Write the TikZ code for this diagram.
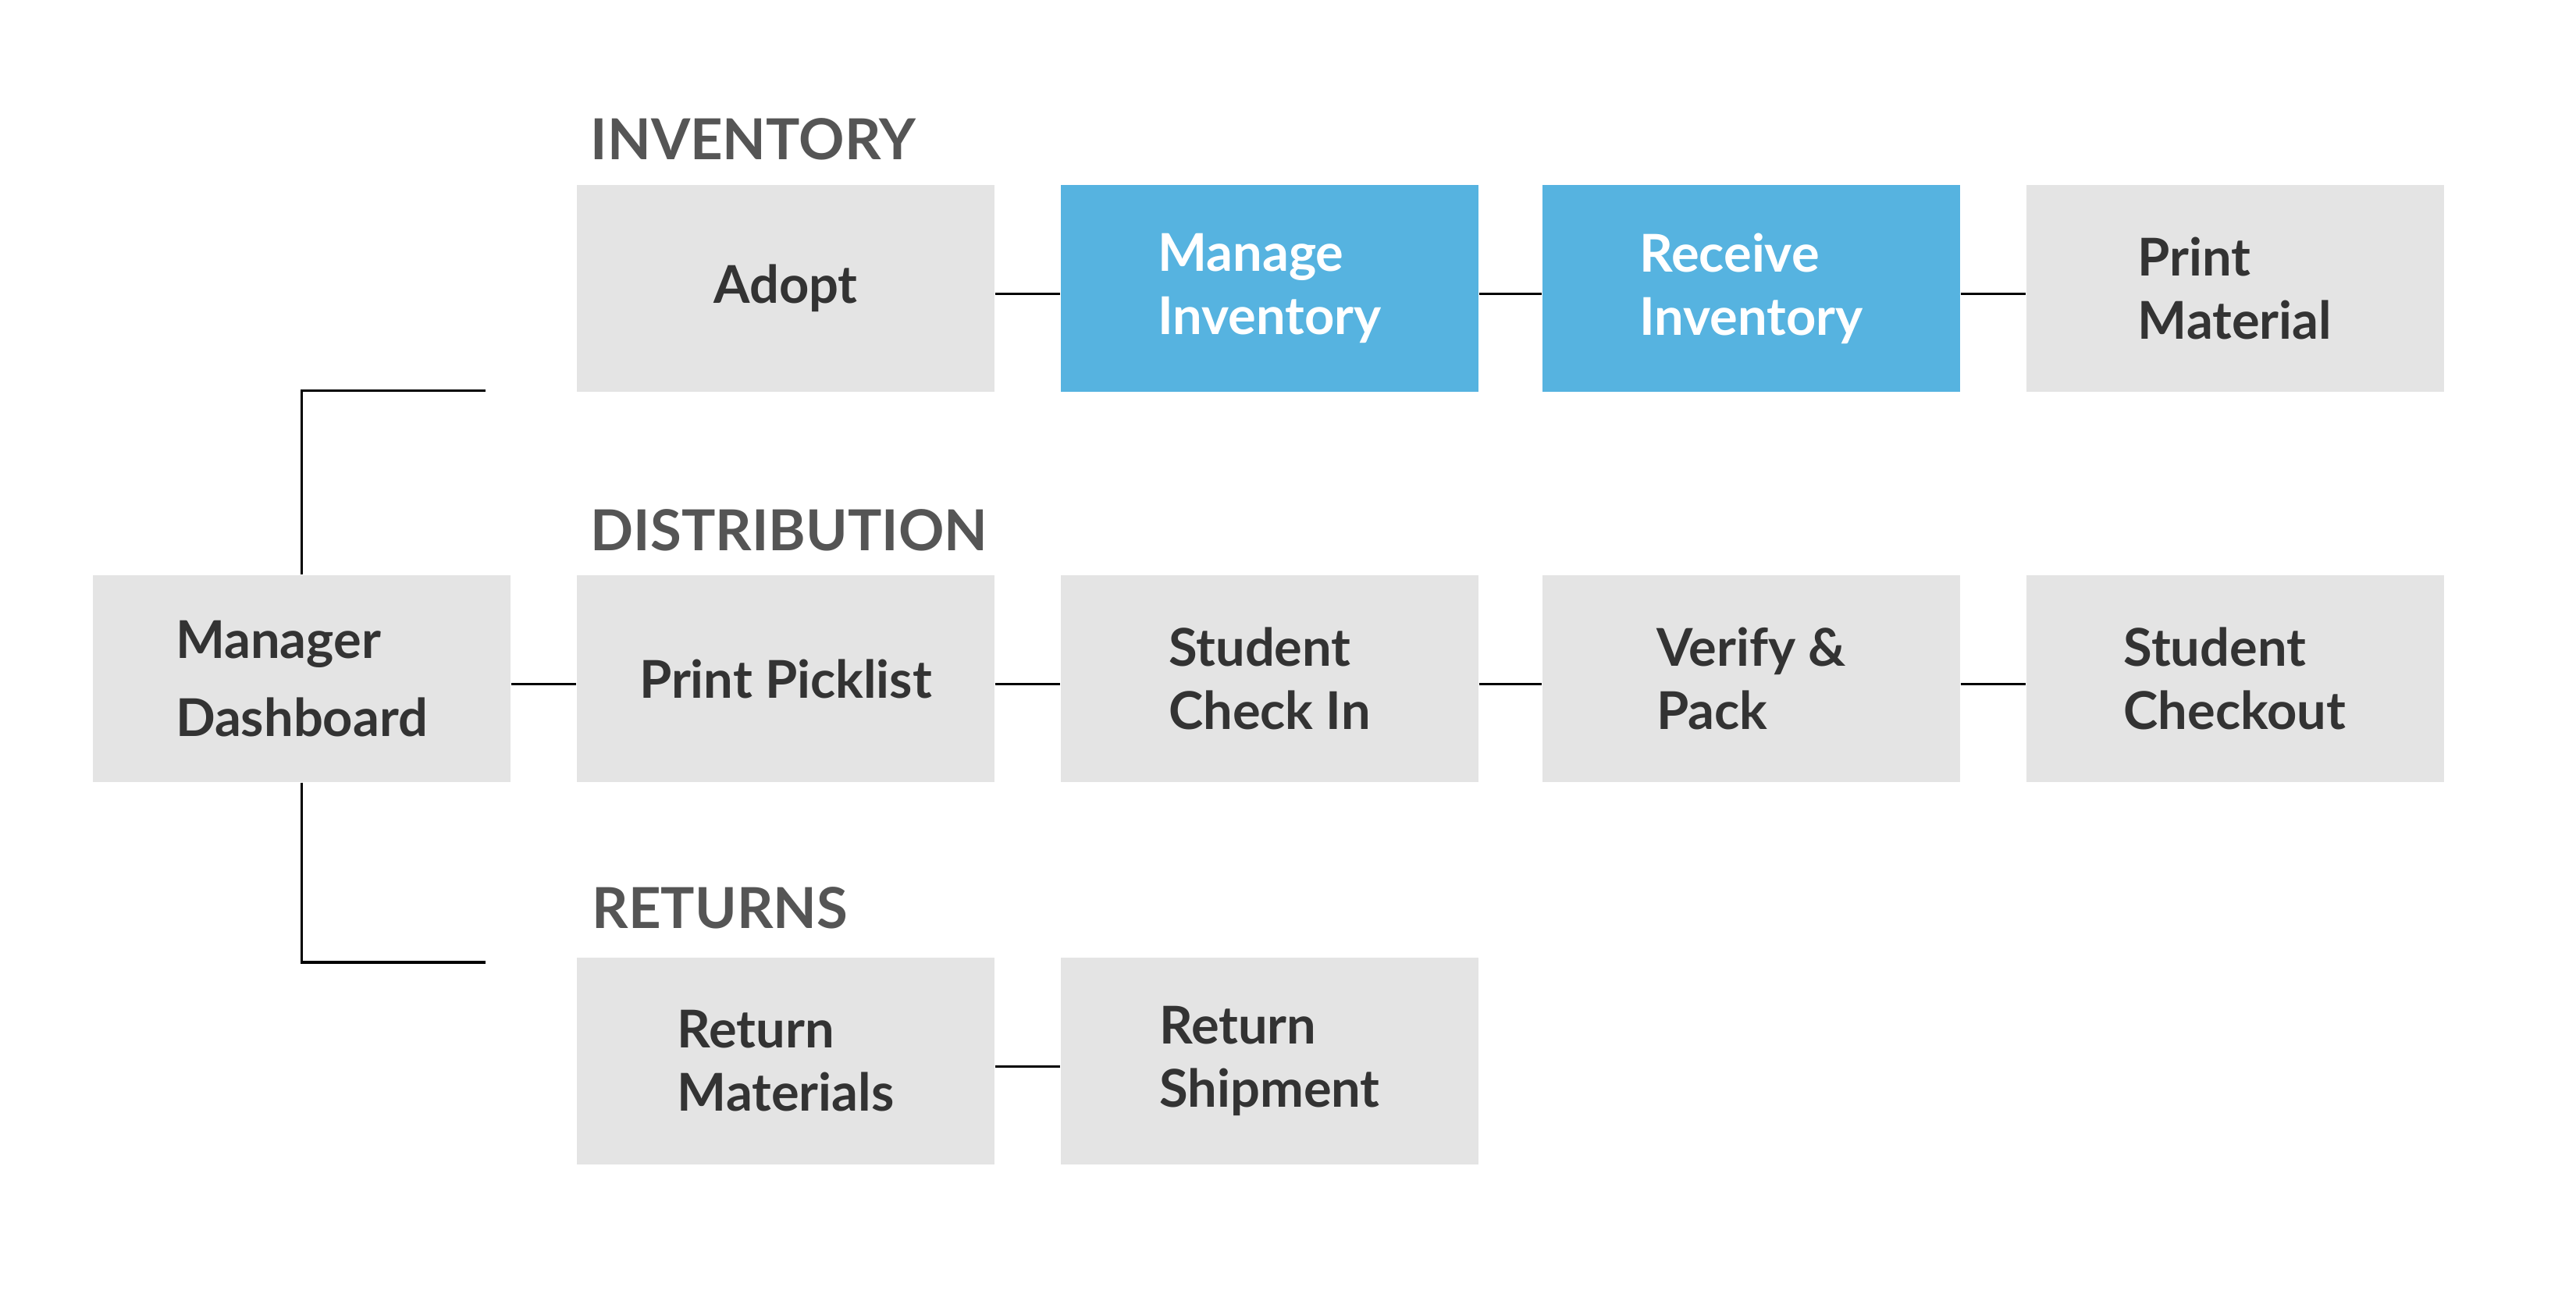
\documentclass[tikz,border=0pt]{standalone}
\usepackage{fontspec}
\setmainfont{Lato}
\definecolor{boxgray}{HTML}{E4E4E4}
\definecolor{boxblue}{HTML}{56B3E0}
\definecolor{txtdark}{HTML}{333333}
\definecolor{hdrgray}{HTML}{555555}
\tikzset{
  stepbox/.style={rectangle, fill=boxgray, minimum width=5.35cm, minimum height=2.65cm,
    align=left, text=txtdark, inner sep=0pt,
    font=\fontsize{19}{23}\selectfont\bfseries},
  hlbox/.style={stepbox, fill=boxblue, text=white},
  widebox/.style={stepbox, font=\fontsize{19}{28.4}\selectfont\bfseries},
  header/.style={anchor=base west, inner sep=0pt, text=hdrgray,
    font=\fontsize{20.6}{24}\selectfont\bfseries},
  link/.style={draw=black, line width=1pt},
}
\begin{document}
\begin{tikzpicture}[x=1cm,y=1cm]
\useasboundingbox (0,0) rectangle (33,-16.81);
% headers
\node[header] (hinv) at (7.56,-2.05) {INVENTORY};
\node[header] (hdis) at (7.56,-7.06) {DISTRIBUTION};
\node[header] (hret) at (7.58,-11.89) {RETURNS};
% row 1
\node[stepbox] (adopt) at (10.065,-3.695) {Adopt};
\node[hlbox] (manage) at (16.265,-3.695) {Manage\\Inventory};
\node[hlbox] (receive) at (22.435,-3.695) {Receive\\Inventory};
\node[stepbox] (printmat) at (28.63,-3.695) {Print\\Material};
% row 2
\node[widebox] (mgr) at (3.865,-8.695) {Manager\\Dashboard};
\node[stepbox] (pick) at (10.065,-8.695) {Print Picklist};
\node[stepbox] (checkin) at (16.265,-8.695) {Student\\Check In};
\node[stepbox] (verify) at (22.435,-8.695) {Verify \&\\Pack};
\node[stepbox] (checkout) at (28.63,-8.695) {Student\\Checkout};
% row 3
\node[stepbox] (retmat) at (10.065,-13.595) {Return\\Materials};
\node[stepbox] (retship) at (16.265,-13.595) {Return\\Shipment};
% connectors
\foreach \a/\b in {adopt/manage, manage/receive, receive/printmat,
  mgr/pick, pick/checkin, checkin/verify, verify/checkout, retmat/retship}
  \draw[link] ([yshift=-0.07cm]\a.east) -- ([yshift=-0.07cm]\b.west);
% brackets
\coordinate (topend) at (6.22,-5.006);
\coordinate (botend) at (6.22,-12.33);
\draw[link] (mgr.north) |- (topend);
\draw[link] (mgr.south) |- (botend);
\end{tikzpicture}
\end{document}
